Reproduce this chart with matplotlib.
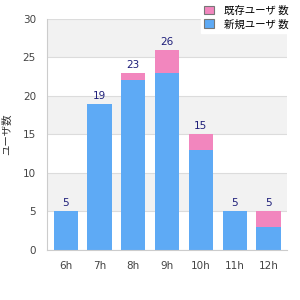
import numpy as np
import matplotlib.pyplot as plt
from matplotlib.patches import Patch

plt.rcParams['font.family'] = ['Noto Sans CJK JP', 'DejaVu Sans']

hours = ['6h', '7h', '8h', '9h', '10h', '11h', '12h']
base = [5, 19, 22, 23, 13, 5, 3]
extra = [0, 0, 1, 3, 2, 0, 2]
totals = [b + e for b, e in zip(base, extra)]
legend_labels = ['既存ユーザ 数', '新規ユーザ 数']
ylabel = 'ユーザ数'

blue = '#5eaaf5'
pink = '#f286be'

fig = plt.figure(figsize=(3, 3), dpi=100)
ax = fig.add_axes([0.157, 0.167, 0.80, 0.77])

x = np.arange(len(hours))
ax.set_ylim(0, 30)
ax.set_xlim(-0.55, len(hours) - 0.45)

# alternating background bands
for lo in range(0, 30, 5):
    if (lo // 5) % 2 == 1:
        ax.axhspan(lo, lo + 5, color='#f2f2f2', zorder=0, lw=0)
ax.set_yticks(range(0, 31, 5))
ax.grid(axis='y', color='#dcdcdc', lw=0.8, zorder=1)

ax.bar(x, base, width=0.72, color=blue, zorder=2)
ax.bar(x, extra, width=0.72, bottom=base, color=pink, zorder=2)
for xi, t in zip(x, totals):
    ax.text(xi, t + 0.4, str(t), ha='center', va='bottom', fontsize=7.5,
            color='#1f1f7a', family='DejaVu Sans')

ax.set_xticks(x)
ax.set_xticklabels(hours)
ax.tick_params(length=0, labelsize=7.5, colors='#444444', pad=8)
for lab in ax.get_xticklabels() + ax.get_yticklabels():
    lab.set_family('DejaVu Sans')
for s in ['top', 'right']:
    ax.spines[s].set_visible(False)
for s in ['left', 'bottom']:
    ax.spines[s].set_color('#cccccc')
ax.set_ylabel(ylabel, fontsize=7.5, color='#333333', labelpad=8)

handles = [Patch(facecolor=pink, edgecolor='#777777', lw=0.8),
           Patch(facecolor=blue, edgecolor='#777777', lw=0.8)]
leg = fig.legend(handles, legend_labels, loc='upper right', bbox_to_anchor=(0.99, 1.01),
                 fontsize=7.5, frameon=True, fancybox=False, handlelength=0.9,
                 handleheight=0.9, handletextpad=1.0, labelspacing=0.35,
                 borderpad=0.3)
leg.get_frame().set_edgecolor('white')
leg.get_frame().set_facecolor('white')
leg.get_frame().set_alpha(1)

fig.savefig('out.png', dpi=100)
